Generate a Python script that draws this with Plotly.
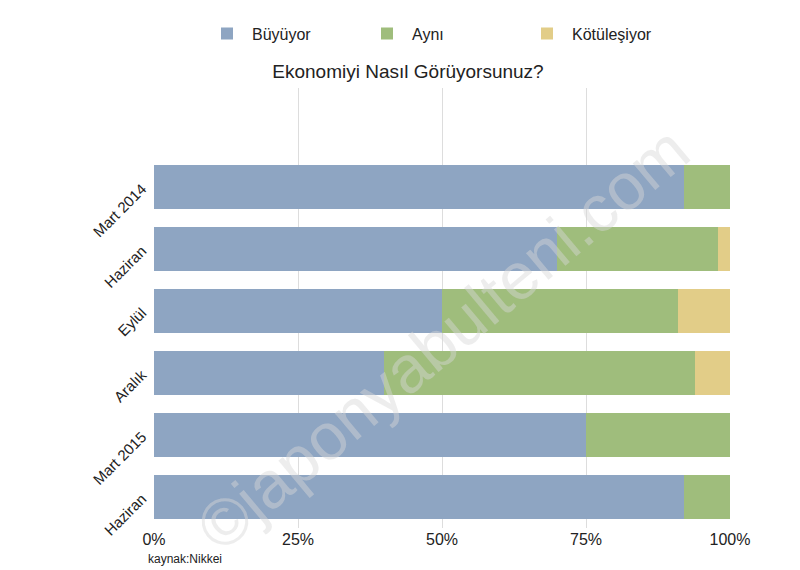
import plotly.graph_objects as go

periods = ["Mart 2014", "Haziran", "Eylül", "Aralık", "Mart 2015", "Haziran"]
buyuyor = [92, 70, 50, 40, 75, 92]
ayni = [8, 28, 41, 54, 25, 8]
kotulesiyor = [0, 2, 9, 6, 0, 0]

series = [("Büyüyor", buyuyor, "#8ea5c2"), ("Aynı", ayni, "#9fbd7c"),
          ("Kötüleşiyor", kotulesiyor, "#e2cd88")]
pos = list(range(len(periods)))

fig = go.Figure()
for name, vals, color in series:
    fig.add_trace(go.Bar(y=pos, x=vals, name=name, orientation="h",
                         marker=dict(color=color, line=dict(width=0))))

fig.update_layout(
    barmode="stack", bargap=0.28,
    width=800, height=570, plot_bgcolor="white", paper_bgcolor="white",
    font=dict(family="Liberation Sans, Arial", size=15, color="#222"),
    margin=dict(l=146, r=78, t=80, b=50, autoexpand=False),
    title=dict(text="Ekonomiyi Nasıl Görüyorsunuz?", x=0.5, y=0.9, xanchor="center",
               font=dict(size=19)),
    legend=dict(orientation="h", x=0.5, xanchor="center", y=0.985, yanchor="top",
                yref="container", font=dict(size=16), traceorder="normal",
                itemwidth=40, entrywidth=105),
    xaxis=dict(range=[0, 100], tickvals=[0, 25, 50, 75, 100],
               ticktext=["0%", "25%", "50%", "75%", "100%"], showgrid=True,
               gridcolor="#dddddd", zeroline=False, ticks="", tickfont=dict(size=16)),
    yaxis=dict(range=[5.5, -1.6], tickvals=pos, ticktext=periods, tickangle=-45,
               showgrid=False, zeroline=False, ticks="outside", ticklen=8,
               tickcolor="white", tickfont=dict(size=15)),
    annotations=[
        dict(text="kaynak:Nikkei", x=0, y=-0.05, xref="paper", yref="paper",
             xanchor="left", yanchor="top", showarrow=False, font=dict(size=12),
             xshift=-8),
        dict(text="©japonyabulteni.com", x=0.5, y=0.43, xref="paper", yref="paper",
             textangle=-40, showarrow=False,
             font=dict(size=66, color="rgba(215,215,215,0.45)")),
    ],
)
fig.write_html("out.html")
